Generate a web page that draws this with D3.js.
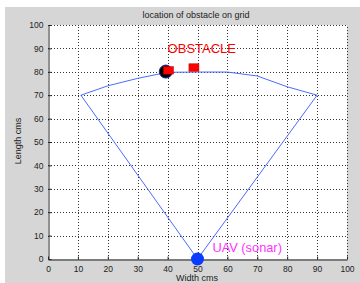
<!doctype html>
<html>
<head>
<script src="https://d3js.org/d3.v7.min.js"></script>
<style>
  body { margin: 0; background: #fff; }
  svg text { font-family: "Liberation Sans", Arial, sans-serif; }
</style>
</head>
<body>
<div id="chart"></div>
<script>
// values
var xTicks = [0, 10, 20, 30, 40, 50, 60, 70, 80, 90, 100];
var yTicks = [0, 10, 20, 30, 40, 50, 60, 70, 80, 90, 100];
var fanX = [50, 11, 20, 30, 40, 50, 60, 70, 80, 90, 50];
var fanY = [0, 70, 74, 77.2, 79.8, 79.9, 79.9, 78.2, 73.6, 70, 0];
var obstacleX = [40.3, 48.8];
var obstacleY = [80.6, 81.8];
var hitX = [39.4], hitY = [80.1];
var uavX = [50], uavY = [0];

var W = 360, H = 283;
var svg = d3.select("#chart").append("svg").attr("width", W).attr("height", H);

// grey figure background
svg.append("rect").attr("x", 5).attr("y", 7).attr("width", W - 5).attr("height", H - 7).attr("fill", "#d6d6d6");

var x = d3.scaleLinear().domain([0, 100]).range([48, 347]);
var y = d3.scaleLinear().domain([0, 100]).range([259, 25]);

svg.append("rect")
  .attr("x", x(0)).attr("y", y(100))
  .attr("width", x(100) - x(0)).attr("height", y(0) - y(100))
  .attr("fill", "#fff");

// dotted grid
var grid = svg.append("g").attr("stroke", "#333").attr("stroke-width", 1).attr("stroke-dasharray", "1,2");
grid.selectAll(".gv").data(xTicks.slice(1)).enter().append("line")
  .attr("x1", function(d) { return Math.round(x(d)) + 0.5; })
  .attr("x2", function(d) { return Math.round(x(d)) + 0.5; })
  .attr("y1", y(0)).attr("y2", y(100));
grid.selectAll(".gh").data(yTicks.slice(1)).enter().append("line")
  .attr("y1", function(d) { return Math.round(y(d)) + 0.5; })
  .attr("y2", function(d) { return Math.round(y(d)) + 0.5; })
  .attr("x1", x(0)).attr("x2", x(100));

// axes, ticks inside
var xAxis = svg.append("g").attr("transform", "translate(0," + (Math.round(y(0)) + 0.5) + ")")
  .call(d3.axisBottom(x).tickValues(xTicks).tickSizeInner(-3).tickSizeOuter(0).tickPadding(6));
var yAxis = svg.append("g").attr("transform", "translate(" + (Math.round(x(0)) + 0.5) + ",0)")
  .call(d3.axisLeft(y).tickValues(yTicks).tickSizeInner(-3).tickSizeOuter(0).tickPadding(5));
[xAxis, yAxis].forEach(function(a) {
  a.select(".domain").attr("stroke", "#222");
  a.selectAll(".tick line").attr("stroke", "#222");
  a.selectAll("text").attr("font-size", 8.5).attr("fill", "#222")
    .attr("font-family", "'Liberation Sans', Arial, sans-serif");
});

// fan of the sonar
var line = d3.line()
  .x(function(d) { return x(fanX[d]); })
  .y(function(d) { return y(fanY[d]); });
svg.append("path")
  .attr("d", line(d3.range(fanX.length)))
  .attr("fill", "none").attr("stroke", "#4a6cff").attr("stroke-width", 1);

// markers
svg.selectAll(".hit").data(hitX).enter().append("circle")
  .attr("cx", function(d) { return x(d); })
  .attr("cy", function(d, i) { return y(hitY[i]); })
  .attr("r", 6.5).attr("fill", "#000").attr("stroke", "#1a2a99").attr("stroke-width", 1);
svg.selectAll(".obs").data(obstacleX).enter().append("rect")
  .attr("x", function(d) { return x(d) - 5; })
  .attr("y", function(d, i) { return y(obstacleY[i]) - 3.8; })
  .attr("width", 10).attr("height", 7.5)
  .attr("fill", "#ff0000").attr("stroke", "#b00").attr("stroke-width", 0.5);
svg.selectAll(".uav").data(uavX).enter().append("circle")
  .attr("cx", function(d) { return x(d); })
  .attr("cy", function(d, i) { return y(uavY[i]); })
  .attr("r", 6.5).attr("fill", "#0a3cff");

// annotations
svg.append("text").attr("x", x(40)).attr("y", y(90)).attr("dy", "0.35em")
  .attr("font-size", 13).attr("fill", "#ff0000").text("OBSTACLE");
svg.append("text").attr("x", x(55)).attr("y", y(4.7)).attr("dy", "0.35em")
  .attr("font-size", 12.8).attr("fill", "#ff33ff").text("UAV (sonar)");

// titles
svg.append("text").attr("x", 196).attr("y", 18).attr("text-anchor", "middle")
  .attr("font-size", 9).attr("fill", "#222").text("location of obstacle on grid");
svg.append("text").attr("x", 197).attr("y", 281).attr("text-anchor", "middle")
  .attr("font-size", 9).attr("fill", "#222").text("Width cms");
svg.append("text").attr("transform", "translate(21,141) rotate(-90)").attr("text-anchor", "middle")
  .attr("font-size", 9).attr("fill", "#222").text("Length cms");
</script>
</body>
</html>
